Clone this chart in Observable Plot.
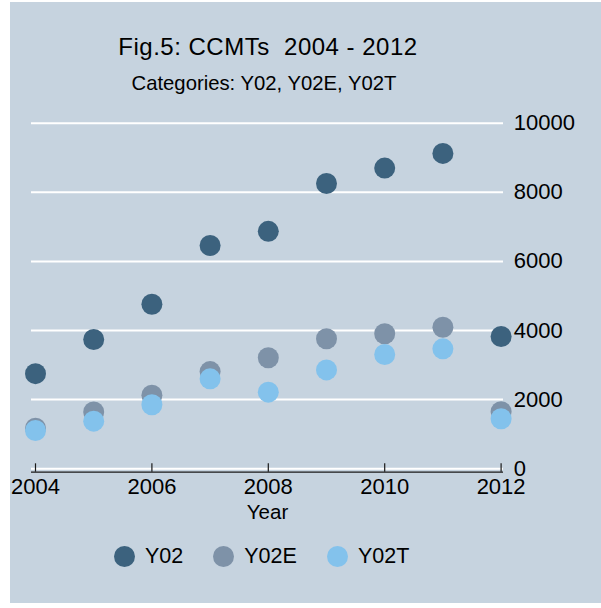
<!DOCTYPE html>
<html><head><meta charset="utf-8">
<script src="https://cdn.jsdelivr.net/npm/d3@7"></script>
<script src="https://cdn.jsdelivr.net/npm/@observablehq/plot@0.6"></script>
<style>
html,body{margin:0;padding:0;background:#fff;width:601px;height:608px;overflow:hidden;font-family:"Liberation Sans",Arial,Helvetica,sans-serif;}
#bg{position:absolute;left:10px;top:2px;width:591px;height:601px;background:#c6d3df;}
.t{position:absolute;white-space:pre;text-align:center;color:#000;line-height:1;}
#title{left:118px;width:300px;top:34.7px;font-size:24px;letter-spacing:0.5px;}
#subtitle{left:114px;width:300px;top:73px;font-size:20.3px;}
#chart{position:absolute;left:10px;top:100px;}
#legend{position:absolute;left:114px;top:545.5px;display:flex;align-items:center;font-size:21.5px;line-height:1;color:#000;}
.item{display:flex;align-items:center;margin-right:30px;}
.sw{width:21px;height:21px;border-radius:50%;margin-right:10px;}
</style>
</head><body>
<div id="bg"></div>
<div id="title" class="t"></div>
<div id="subtitle" class="t"></div>
<div id="chart"></div>
<div id="legend"></div>
<script>
const titleText = "Fig.5: CCMTs  2004 - 2012";
const subtitleText = "Categories: Y02, Y02E, Y02T";
const xLabel = "Year";
const years = [2004, 2005, 2006, 2007, 2008, 2009, 2010, 2011, 2012];
const Y02  = [2750, 3740, 4760, 6460, 6870, 8255, 8700, 9125, 3825];
const Y02E = [1170, 1640, 2125, 2810, 3210, 3760, 3905, 4095, 1650];
const Y02T = [1105, 1375, 1850, 2600, 2215, 2860, 3305, 3470, 1445];
const seriesNames = ["Y02", "Y02E", "Y02T"];
const seriesColors = ["#3c627e", "#7e92a8", "#83c2ec"];
const xTicks = [2004, 2006, 2008, 2010, 2012];
const yTicks = [0, 2000, 4000, 6000, 8000, 10000];

document.getElementById("title").textContent = titleText;
document.getElementById("subtitle").textContent = subtitleText;

const seriesValues = [Y02, Y02E, Y02T];
const table = [];
seriesNames.forEach((s, k) => years.forEach((yr, i) => table.push({year: yr, value: seriesValues[k][i], series: s})));

const plot = Plot.plot({
  width: 591,
  height: 440,
  marginTop: 22.7,
  marginBottom: 71.8,
  marginLeft: 21,
  marginRight: 98,
  style: {background: "transparent", fontFamily: '"Liberation Sans", Arial, Helvetica, sans-serif', color: "#000"},
  x: {domain: [2004, 2012], insetLeft: 4, insetRight: 2.4},
  y: {domain: [0, 10000]},
  color: {domain: seriesNames, range: seriesColors},
  marks: [
    Plot.ruleY(yTicks, {stroke: "#ffffff", strokeWidth: 2}),
    Plot.ruleY([0], {stroke: "#1a1a1a", strokeWidth: 1.3, dy: 3.5}),
    Plot.axisX({ticks: xTicks, tickSize: 8.4, dy: -4.9, tickFormat: () => "", label: null, stroke: "#1a1a1a", strokeWidth: 1.2}),
    Plot.axisX({ticks: xTicks, tickSize: 0, tickPadding: 9.6, tickFormat: d => String(d), label: null, fontSize: 22, fill: "#000"}),
    Plot.axisY({anchor: "right", ticks: yTicks, tickSize: 0, tickPadding: 10.3, tickFormat: d => String(d), label: null, fontSize: 22, fill: "#000"}),
    Plot.text([xLabel], {frameAnchor: "bottom", lineAnchor: "middle", dy: 43.7, fontSize: 20.5, fill: "#000", text: d => d}),
    Plot.dot(table, {x: "year", y: "value", fill: "series", r: 10.5})
  ]
});
document.getElementById("chart").appendChild(plot);

const legend = d3.select("#legend");
seriesNames.forEach((s, k) => {
  const it = legend.append("div").attr("class", "item");
  it.append("div").attr("class", "sw").style("background", seriesColors[k]);
  it.append("span").text(s);
});
</script>
</body></html>
